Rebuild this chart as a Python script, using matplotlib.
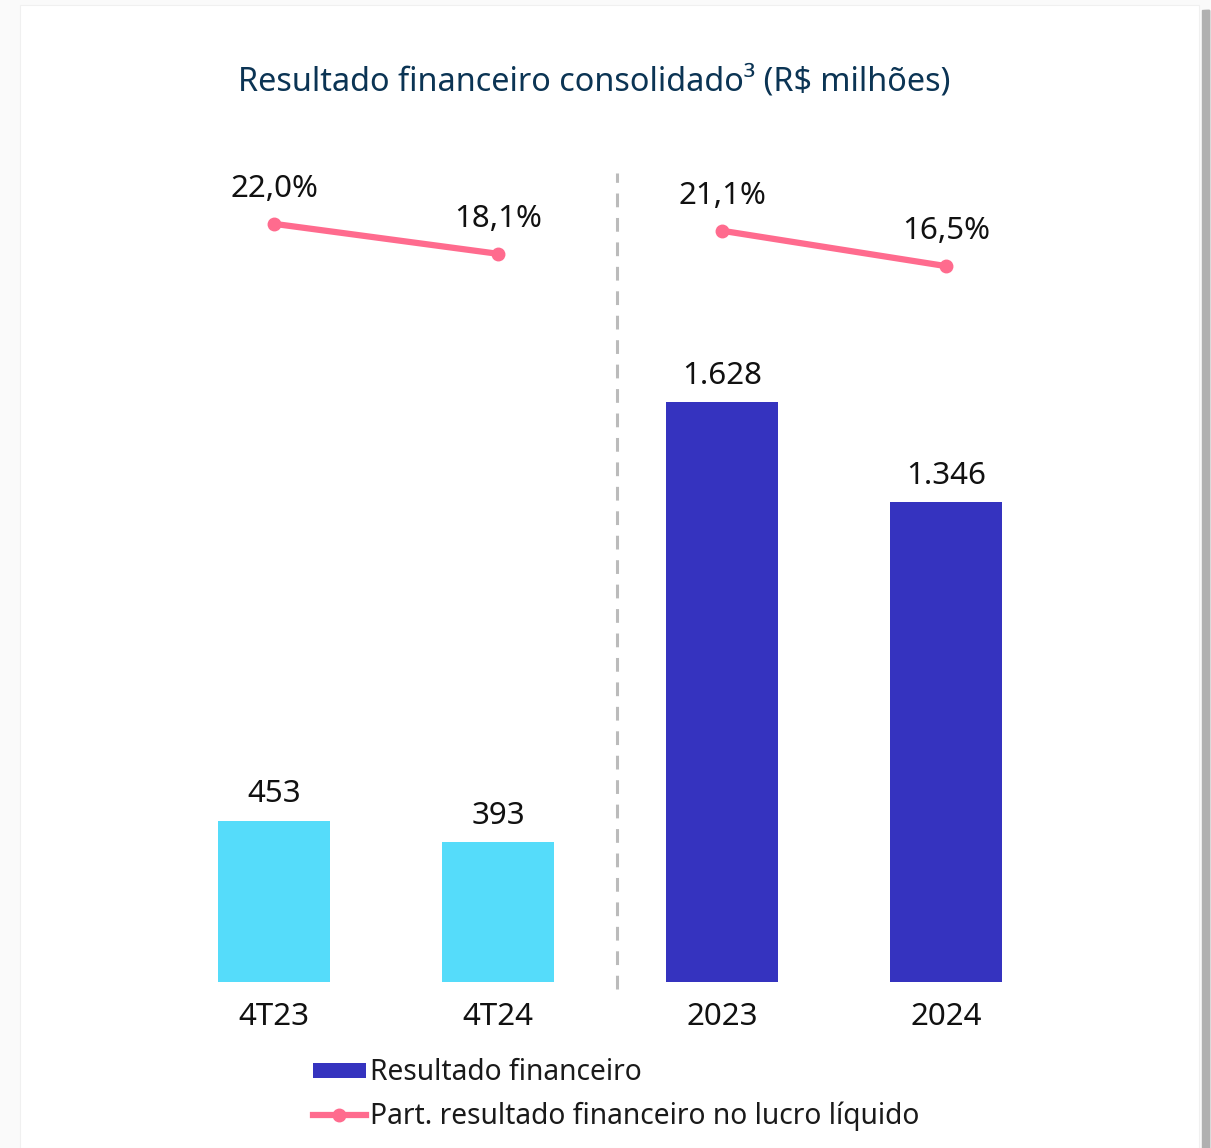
import matplotlib
matplotlib.use("Agg")
import matplotlib.pyplot as plt
from matplotlib.patches import Rectangle, Patch
from matplotlib.lines import Line2D

plt.rcParams['font.family'] = ['Noto Sans', 'DejaVu Sans']

# data
categories = ['4T23', '4T24', '2023', '2024']
resultado = [453, 393, 1628, 1346]
participacao = [22.0, 18.1, 21.1, 16.5]
bar_colors = ['#55dcfa', '#55dcfa', '#3533bf', '#3533bf']
title = 'Resultado financeiro consolidado³ (R$ milhões)'
legend_labels = ['Resultado financeiro', 'Part. resultado financeiro no lucro líquido']

PINK = '#ff6b8e'
W, H = 1211, 1148
NUM_FS = 22.5

fig = plt.figure(figsize=(W / 100, H / 100), dpi=100)
fig.patch.set_facecolor('#fafafa')

# card + right shadow
for i, c in enumerate(['#e6e6e6', '#d2d2d2', '#bdbdbd', '#b0b0b0']):
    fig.patches.append(Rectangle(((1199 + 9 - 2 * i) / W, 0), (2 * i + 1) / W, (H - 10) / H,
                                 transform=fig.transFigure, color=c, zorder=0))
fig.patches.append(Rectangle((20 / W, 0), 1179 / W, (H - 5) / H, transform=fig.transFigure,
                             facecolor='white', edgecolor='#f0f0f0', lw=0.8, zorder=1))

fig.text(594 / W, 1 - 82 / H, title, ha='center', va='center', fontsize=23.3, color='#0b3454')

ax = fig.add_axes([162 / W, 166 / H, 896 / W, 832 / H])
ax.set_zorder(2)
ax.patch.set_visible(False)
x = list(range(len(categories)))
ax.bar(x, resultado, width=0.5, color=bar_colors)
ax.set_xlim(-0.5, 3.5)
ax.set_ylim(0, 2335)
ax.axis('off')

for xi, v in zip(x, resultado):
    lbl = f"{v:,}".replace(',', '.')
    ax.annotate(lbl, (xi, v), xytext=(0, 19), textcoords='offset points',
                ha='center', va='center', fontsize=NUM_FS, color='#111111')
    ax.annotate(categories[xi], (xi, 0), xytext=(0, -25.5), textcoords='offset points',
                ha='center', va='center', fontsize=NUM_FS, color='#111111')

ax.plot([1.53, 1.53], [-20, 2270], color='#bbbbbb', lw=2.2, ls=(0, (4.5, 3.5)), clip_on=False)

ax2 = ax.twinx()
ax2.set_ylim(-76.6, 31.6)
ax2.axis('off')
for seg in (slice(0, 2), slice(2, 4)):
    ax2.plot(x[seg], participacao[seg], color=PINK, lw=4.5, marker='o', ms=9)
for xi, p in zip(x, participacao):
    ax2.annotate(f"{p:.1f}%".replace('.', ','), (xi, p), xytext=(0, 25), textcoords='offset points',
                 ha='center', va='center', fontsize=NUM_FS, color='#111111')

handles = [Patch(facecolor='#3533bf'),
           Line2D([0], [0], color=PINK, lw=4.5, marker='o', ms=9)]
leg = fig.legend(handles, legend_labels, loc='upper left', bbox_to_anchor=(288 / W, 1 - 1033 / H),
                 frameon=False, fontsize=20.3, handlelength=1.85, handleheight=0.45,
                 handletextpad=0.15, labelspacing=0.5)
for t in leg.get_texts():
    t.set_color('#1a1a1a')

fig.savefig('out.png', dpi=100)
